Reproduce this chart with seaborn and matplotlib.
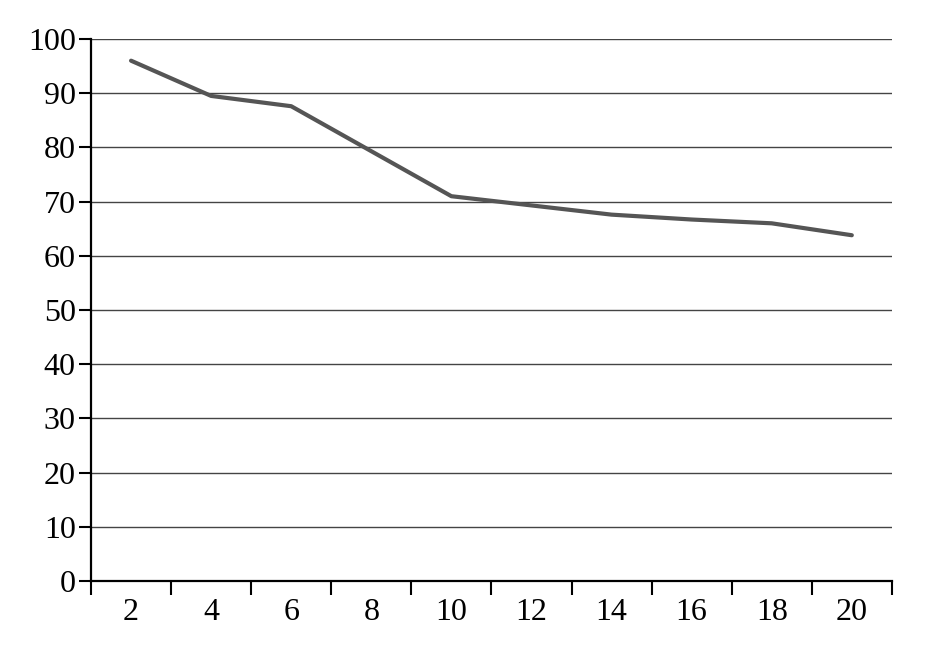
import matplotlib
matplotlib.use("Agg")
import matplotlib.pyplot as plt
import numpy as np
import pandas as pd
import seaborn as sns

# Data
x_labels = ["2", "4", "6", "8", "10", "12", "14", "16", "18", "20"]
values = [96.0, 89.5, 87.6, 79.3, 71.0, 69.3, 67.6, 66.7, 66.0, 63.8]
y_ticks = [0, 10, 20, 30, 40, 50, 60, 70, 80, 90, 100]

df = pd.DataFrame({"x": x_labels, "value": values})

sns.set_style("white")
plt.rcParams["font.family"] = ["Liberation Serif", "DejaVu Serif"]

fig = plt.figure(figsize=(9.5, 6.5), dpi=100)
ax = fig.add_axes([0.0958, 0.106, 0.843, 0.834])

sns.lineplot(data=df, x="x", y="value", ax=ax, color="#555555",
             linewidth=3, sort=False)

ax.set_ylim(0, 100)
ax.set_xlim(-0.5, len(x_labels) - 0.5)
ax.set_yticks(y_ticks)
ax.set_yticklabels([str(t) for t in y_ticks], fontsize=23)
ax.set_xticks(np.arange(len(x_labels)))
ax.set_xticklabels(x_labels, fontsize=23)
ax.set_xticks(np.arange(len(x_labels) + 1) - 0.5, minor=True)
ax.tick_params(axis="x", which="major", bottom=True, length=0, pad=12, labelcolor="black")
ax.tick_params(axis="x", which="minor", bottom=True, length=10, width=1.5,
               direction="out", color="black")
ax.tick_params(axis="y", which="major", left=True, length=9, width=1.5,
               direction="out", color="black", pad=2, labelcolor="black")
ax.grid(axis="y", color="#444444", linewidth=1)
ax.set_axisbelow(True)
for side in ["top", "right"]:
    ax.spines[side].set_visible(False)
for side in ["left", "bottom"]:
    ax.spines[side].set_color("black")
    ax.spines[side].set_linewidth(1.6)
ax.set_xlabel("")
ax.set_ylabel("")

fig.savefig("out.png", dpi=100)
